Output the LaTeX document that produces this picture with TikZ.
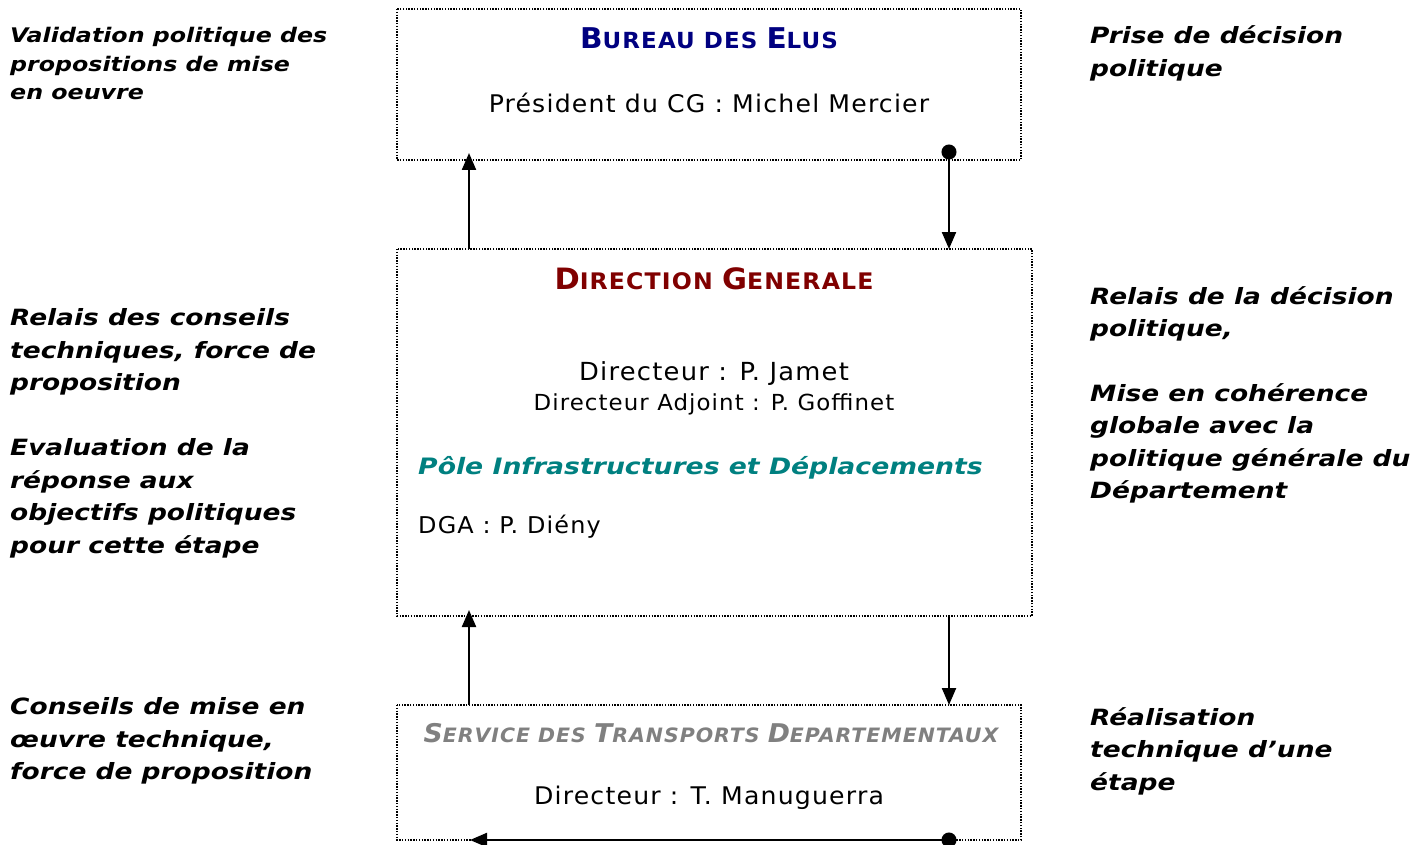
\documentclass[tikz,border=0pt]{standalone}
\usepackage{fontspec}
\setmainfont{DejaVu Sans}
\newfontfamily\cond[FakeStretch=1.15,LetterSpace=5]{DejaVu Sans Condensed}
\newfontfamily\lblf[FakeStretch=1.18]{DejaVu Sans}
\usetikzlibrary{arrows.meta}
\definecolor{navyc}{RGB}{0,0,128}
\definecolor{redc}{RGB}{128,0,0}
\definecolor{grayc}{RGB}{128,128,128}
\definecolor{tealc}{RGB}{0,128,128}
\tikzset{
  dotbox/.style={draw=black, line width=1.3pt, dash pattern=on 1.4pt off 1.4pt, inner sep=0pt},
  lbl/.style={anchor=base west, inner sep=0pt, font=\lblf\bfseries\itshape},
  body/.style={inner sep=0pt, anchor=base, font=\cond\fontsize{24.3}{28}\selectfont},
  conn/.style={line width=2.2pt, -{Triangle[length=17pt,width=14pt]}},
  dconn/.style={line width=2.2pt, {Circle[length=15pt,width=15pt]}-{Triangle[length=17pt,width=14pt]}}
}
\newcommand{\lines}[3]{\parbox[t]{420pt}{\fontsize{#1}{#2}\selectfont\raggedright #3}}
\begin{document}
\begin{tikzpicture}[x=1pt,y=-1pt]
\useasboundingbox (0,0) rectangle (1426,845);
% boxes
\draw[dotbox] (397,9) rectangle (1021,160);
\draw[dotbox] (397,249) rectangle (1032,616);
\draw[dotbox] (397,705) rectangle (1021,840);
\coordinate (b1) at (469,153); \coordinate (b2) at (949,144.5);
\coordinate (d1) at (469,249); \coordinate (d2) at (949,249);
\coordinate (d3) at (469,610); \coordinate (d4) at (949,616);
\coordinate (s1) at (469,705); \coordinate (s2) at (949,705);
\coordinate (s3) at (956.5,840); \coordinate (s4) at (470,840);
% texts in boxes
\node[body, font=\cond\bfseries, text=navyc] (tb) at (709,49) {{\fontsize{28.6}{30}\selectfont B}{\fontsize{22.2}{24}\selectfont UREAU DES }{\fontsize{28.6}{30}\selectfont E}{\fontsize{22.2}{24}\selectfont LUS}};
\node[body] (pres) at (709,112.5) {Président du CG : Michel Mercier};
\node[body, font=\cond\bfseries, text=redc] (td) at (714,289) {{\fontsize{29.4}{30}\selectfont D}{\fontsize{22.8}{24}\selectfont IRECTION }{\fontsize{29.4}{30}\selectfont G}{\fontsize{22.8}{24}\selectfont ENERALE}};
\node[body, font=\cond\fontsize{24.9}{28}\selectfont] (dir) at (714,380) {Directeur : P. Jamet};
\node[body, font=\cond\fontsize{22.1}{26}\selectfont] (adj) at (714,410) {Directeur Adjoint : P. Goffinet};
\node[body, anchor=base west, font=\lblf\bfseries\itshape\fontsize{22.6}{27}\selectfont, text=tealc] (pole) at (418,474) {Pôle Infrastructures et Déplacements};
\node[body, anchor=base west, font=\cond\fontsize{23.1}{27}\selectfont] (dga) at (418,533) {DGA : P. Diény};
\node[body, font=\cond\bfseries\itshape, text=grayc] (ts) at (711,742) {{\fontsize{25.8}{28}\selectfont S}{\fontsize{19.8}{22}\selectfont ERVICE DES }{\fontsize{25.8}{28}\selectfont T}{\fontsize{19.8}{22}\selectfont RANSPORTS }{\fontsize{25.8}{28}\selectfont D}{\fontsize{19.8}{22}\selectfont EPARTEMENTAUX}};
\node[body] (man) at (709,804) {Directeur : T. Manuguerra};
% side labels
\node[lbl] (l1) at (10,43) {\lines{20.1}{28.5}{Validation politique des\\propositions de mise\\en oeuvre}};
\node[lbl] (l2) at (10,325.5) {\lines{22.4}{32.5}{Relais des conseils\\techniques, force de\\proposition}};
\node[lbl] (l3) at (10,455.5) {\lines{22.4}{32.5}{Evaluation de la\\réponse aux\\objectifs politiques\\pour cette étape}};
\node[lbl] (l4) at (10,714.5) {\lines{22.4}{32.5}{Conseils de mise en\\œuvre technique,\\force de proposition}};
\node[lbl] (r1) at (1090,44) {\lines{22.4}{32.5}{Prise de décision\\politique}};
\node[lbl] (r2) at (1090,304) {\lines{22.4}{32.4}{Relais de la décision\\politique,\\[32.4pt]Mise en cohérence\\globale avec la\\politique générale du\\Département}};
\node[lbl] (r3) at (1090,725) {\lines{22.4}{32.5}{Réalisation\\technique d’une\\étape}};
% connectors
\draw[conn] (d1) -- (b1);
\draw[dconn] (b2) -- (d2);
\draw[conn] (s1) -- (d3);
\draw[conn] (d4) -- (s2);
\draw[dconn] (s3) -- (s4);
\end{tikzpicture}
\end{document}
